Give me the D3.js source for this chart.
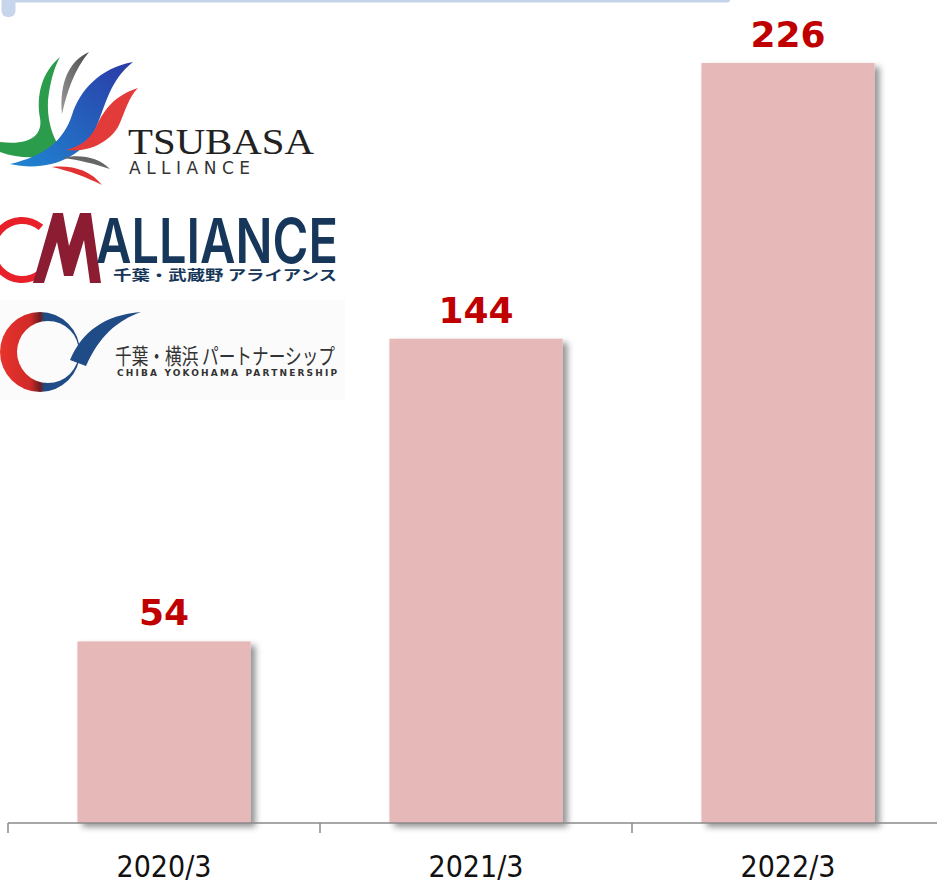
<!DOCTYPE html>
<html>
<head>
<meta charset="utf-8">
<script src="https://cdn.jsdelivr.net/npm/d3@7"></script>
<style>
  html, body { margin: 0; padding: 0; background: #fff; }
  svg { display: block; }
</style>
</head>
<body>
<svg id="chart"></svg>
<script>
// data
var CATEGORIES = ["2020/3", "2021/3", "2022/3"];
var VALUES = [54, 144, 226];

var BAR_COLOR = "#e6b8b7";
var LABEL_COLOR = "#c00000";
var AXIS_COLOR = "#8a8a8a";

var canvas_w = 937, canvas_h = 883;
var base_y = 823;

var svg = d3.select("#chart").attr("width", canvas_w).attr("height", canvas_h);

var defs = svg.append("defs");
var shadow = defs.append("filter").attr("id", "shadow")
    .attr("x", "-10%").attr("y", "-10%").attr("width", "130%").attr("height", "130%");
shadow.append("feDropShadow")
    .attr("dx", 5).attr("dy", 4).attr("stdDeviation", 3)
    .attr("flood-color", "#000").attr("flood-opacity", 0.42);

var x = d3.scaleBand().domain(CATEGORIES)
    .range([8, 944])
    .paddingInner(0.445)
    .paddingOuter(0.2225);

var y = d3.scaleLinear().domain([0, 250]).range([base_y, base_y - 250 * 3.363]);

/* top frame piece */
svg.append("rect").attr("x", 14).attr("y", -3).attr("width", 716).attr("height", 5.5)
    .attr("rx", 3).attr("fill", "#c3d3ea");
svg.append("rect").attr("x", 1.5).attr("y", -8).attr("width", 14).attr("height", 25)
    .attr("rx", 6).attr("fill", "#c7d6ec");

/* bars */
svg.append("g").selectAll("rect").data(VALUES).enter().append("rect")
    .attr("x", function(d, i) { return x(CATEGORIES[i]); })
    .attr("y", function(d) { return y(d); })
    .attr("width", x.bandwidth())
    .attr("height", function(d) { return y(0) - y(d); })
    .attr("fill", BAR_COLOR)
    .attr("filter", "url(#shadow)");

/* value labels */
svg.append("g").selectAll("text").data(VALUES).enter().append("text")
    .attr("x", function(d, i) { return x(CATEGORIES[i]) + x.bandwidth() / 2; })
    .attr("y", function(d) { return y(d) - 16; })
    .attr("text-anchor", "middle")
    .attr("font-family", "DejaVu Sans, Verdana, sans-serif")
    .attr("font-weight", "bold")
    .attr("font-size", 36)
    .attr("fill", LABEL_COLOR)
    .text(function(d) { return d; });

/* category axis, ticks sit on band boundaries */
var axis = svg.append("g").attr("transform", "translate(0," + base_y + ")");
var outer = x.step() * x.paddingOuter();
axis.append("line").attr("x1", 8).attr("x2", canvas_w).attr("y1", 0).attr("y2", 0)
    .attr("stroke", AXIS_COLOR).attr("stroke-width", 1.5);
var bounds = CATEGORIES.map(function(c) { return x(c) - outer; });
axis.selectAll(".tick").data(bounds).enter().append("line")
    .attr("class", "tick")
    .attr("x1", function(d) { return d; }).attr("x2", function(d) { return d; })
    .attr("y1", 0).attr("y2", 10)
    .attr("stroke", AXIS_COLOR).attr("stroke-width", 1.5);
axis.selectAll(".lbl").data(CATEGORIES).enter().append("text")
    .attr("class", "lbl")
    .attr("x", function(d) { return x(d) + x.bandwidth() / 2; })
    .attr("y", 54)
    .attr("text-anchor", "middle")
    .attr("font-family", "DejaVu Sans Condensed, DejaVu Sans, sans-serif")
    .attr("font-stretch", "condensed")
    .attr("font-size", 30)
    .attr("fill", "#111")
    .text(function(d) { return d; });

/* ---- logos ---- */
var logos = svg.append("g");

// TSUBASA ALLIANCE
var gBlue = defs.append("linearGradient").attr("id", "gBlue")
    .attr("x1", "1").attr("y1", "0").attr("x2", "0").attr("y2", "1");
gBlue.append("stop").attr("offset", "0%").attr("stop-color", "#2b3aa6");
gBlue.append("stop").attr("offset", "100%").attr("stop-color", "#1f86d2");
var gGray = defs.append("linearGradient").attr("id", "gGray")
    .attr("x1", "1").attr("y1", "0").attr("x2", "0").attr("y2", "1");
gGray.append("stop").attr("offset", "0%").attr("stop-color", "#4a4a4a");
gGray.append("stop").attr("offset", "100%").attr("stop-color", "#9a9a9a");

var wings = [
  {d: "M60,57 C42,72 36,95 40,118 C43,135 30,146 0,142 L0,152 C25,161 50,158 60,148 C51,134 47,118 48,100 C50,82 54,68 60,57 Z", fill: "#2a9c4c"},
  {d: "M89,52 C70,60 59,82 62,114 C67,92 74,70 89,52 Z", fill: "url(#gGray)"},
  {d: "M133,62 C100,68 80,90 72,115 C64,140 45,156 10,164 C45,172 82,160 96,128 C106,104 110,80 133,62 Z", fill: "url(#gBlue)"},
  {d: "M138,88 C115,95 104,110 97,125 C91,138 82,146 66,150 C90,153 111,141 119,125 C126,110 128,98 138,88 Z", fill: "#e33a3a"},
  {d: "M110,169 C98,157 80,154 62,158 C80,160 95,164 110,169 Z", fill: "#666"},
  {d: "M102,185 C90,170 72,165 52,167 C70,171 86,177 102,185 Z", fill: "#e23232"}
];
logos.selectAll(".wing").data(wings).enter().append("path")
    .attr("class", "wing").attr("d", function(d) { return d.d; })
    .attr("fill", function(d) { return d.fill; });

logos.append("text").attr("x", 128).attr("y", 154)
    .attr("font-family", "Liberation Serif, serif").attr("font-size", 35)
    .attr("textLength", 186).attr("lengthAdjust", "spacingAndGlyphs")
    .attr("fill", "#222").text("TSUBASA");
logos.append("text").attr("x", 129).attr("y", 174)
    .attr("font-family", "DejaVu Sans, sans-serif").attr("font-size", 17)
    .attr("textLength", 121).attr("lengthAdjust", "spacing")
    .attr("fill", "#333").text("ALLIANCE");

// CM ALLIANCE
var arc = d3.arc().innerRadius(26).outerRadius(33)
    .startAngle(140 * Math.PI / 180).endAngle(400 * Math.PI / 180);
logos.append("path").attr("transform", "translate(22,250)").attr("d", arc())
    .attr("fill", "#e8202a");
logos.append("path")
    .attr("d", "M33,283 L53,213 L63,213 L69,246 L80,213 L91,213 L101,283 L90,283 L84,240 L73,276 L64,276 L57,242 L44,283 Z")
    .attr("fill", "#8c1c32");
logos.append("text").attr("x", 96).attr("y", 263)
    .attr("font-family", "Inter, Lato, sans-serif").attr("font-weight", 600).attr("font-size", 62)
    .attr("textLength", 242).attr("lengthAdjust", "spacingAndGlyphs")
    .attr("fill", "#17375a").text("ALLIANCE");
logos.append("text").attr("x", 113).attr("y", 280)
    .attr("font-family", "Noto Sans CJK JP, sans-serif").attr("font-weight", "bold").attr("font-size", 14)
    .attr("textLength", 224).attr("lengthAdjust", "spacingAndGlyphs")
    .attr("fill", "#17375a").text("千葉・武蔵野 アライアンス");

// CHIBA YOKOHAMA PARTNERSHIP
logos.insert("rect", ":first-child").attr("x", 0).attr("y", 300).attr("width", 345).attr("height", 100)
    .attr("fill", "#fbfbfb");
var gRing = defs.append("linearGradient").attr("id", "gRing")
    .attr("x1", "0").attr("y1", "0").attr("x2", "1").attr("y2", "0");
gRing.append("stop").attr("offset", "0%").attr("stop-color", "#e8332c");
gRing.append("stop").attr("offset", "38%").attr("stop-color", "#d02a28");
gRing.append("stop").attr("offset", "50%").attr("stop-color", "#701c20");
gRing.append("stop").attr("offset", "56%").attr("stop-color", "#1f4c86");
gRing.append("stop").attr("offset", "100%").attr("stop-color", "#1f4c86");
logos.append("path")
    .attr("d", "M0,352 a40,40 0 1,0 80,0 a40,40 0 1,0 -80,0 Z M17,352 a31,31 0 1,0 62,0 a31,31 0 1,0 -62,0 Z")
    .attr("fill-rule", "evenodd").attr("fill", "url(#gRing)");
logos.append("path")
    .attr("d", "M70,360 C82,332 104,315 141,312 C116,321 99,337 86,366 Z")
    .attr("fill", "#1f4c86");
logos.append("text").attr("x", 115).attr("y", 364)
    .attr("font-family", "Noto Sans CJK JP, sans-serif").attr("font-size", 22)
    .attr("textLength", 220).attr("lengthAdjust", "spacingAndGlyphs")
    .attr("fill", "#333").text("千葉・横浜 パートナーシップ");
logos.append("text").attr("x", 117).attr("y", 376)
    .attr("font-family", "DejaVu Sans, sans-serif").attr("font-weight", "bold").attr("font-size", 9)
    .attr("textLength", 220).attr("lengthAdjust", "spacing")
    .attr("fill", "#333").text("CHIBA YOKOHAMA PARTNERSHIP");
</script>
</body>
</html>
